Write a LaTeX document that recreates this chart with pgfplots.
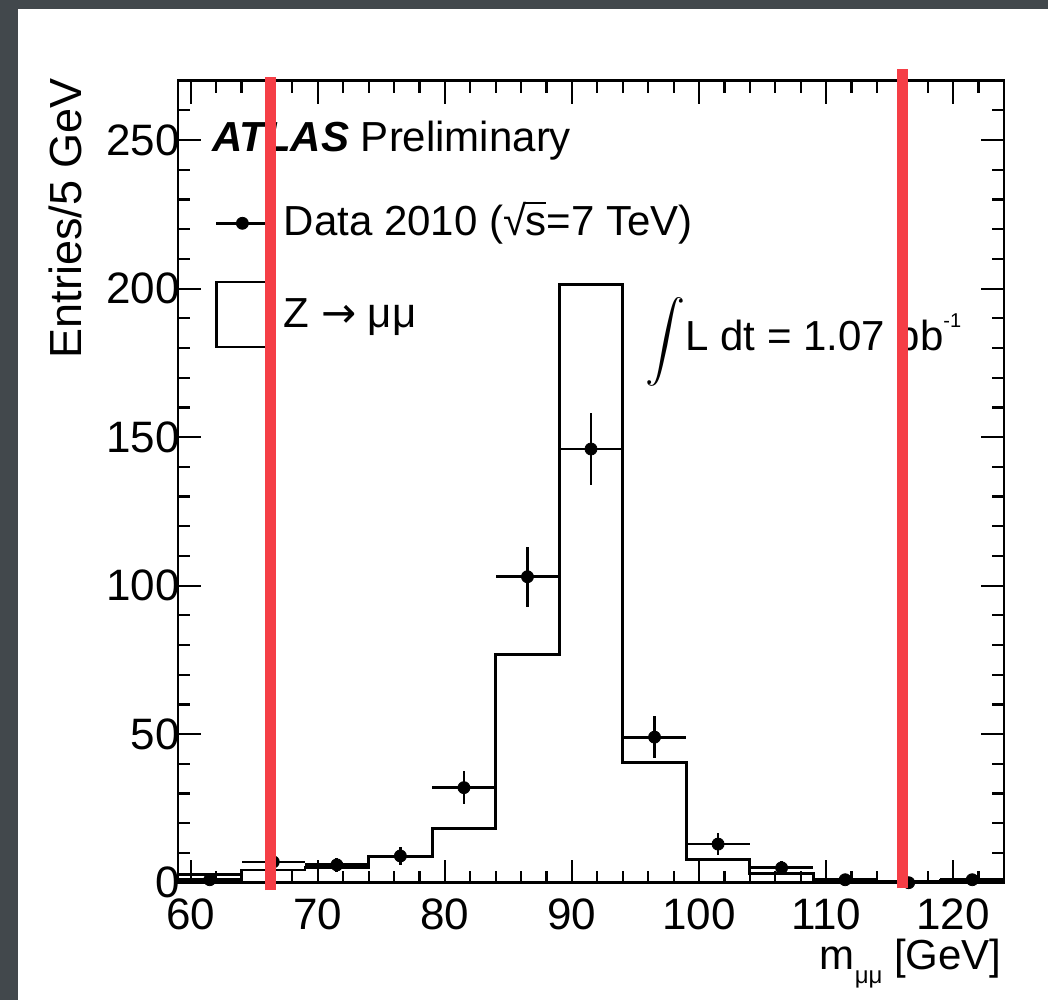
\documentclass[border=0pt]{standalone}
\usepackage{pgfplots}
\pgfplotsset{compat=1.18}
\usepackage{fontspec}
\setmainfont{Liberation Sans}
\newfontfamily\dejavu{DejaVu Sans}
\definecolor{slate}{RGB}{66,72,76}
\definecolor{pen}{RGB}{245,62,70}

\pgfplotstableread{
x     y    ex   ey
61.5  1    2.5  1.0
66.5  7    2.5  2.65
71.5  6    2.5  2.45
76.5  9    2.5  3.0
81.5  32   2.5  5.66
86.5  103  2.5  10.15
91.5  146  2.5  12.08
96.5  49   2.5  7.0
101.5 13   2.5  3.6
106.5 5    2.5  2.24
111.5 1    2.5  1.0
116.5 0    2.5  0.0
121.5 1    2.5  1.0
}\datatab

\pgfplotstableread{
x    y
59   2.8
64   4.3
69   5.2
74   8.8
79   18.3
84   76.9
89   201.5
94   40.4
99   7.7
104  3.0
109  1.2
114  0.3
119  0.8
124  0.8
}\mctab

\pgfplotsset{
  frame/.style={
    at={(89pt,58.65pt)}, anchor=south west,
    scale only axis, width=413pt, height=401pt,
    xmin=59, xmax=124, ymin=0, ymax=270, clip=false},
}

\begin{document}
\begin{tikzpicture}
\fill[slate] (0,0) rectangle (524pt,500pt);
\fill[white] (9pt,0) rectangle (524pt,495.5pt);
\begin{axis}[
  frame,
  xtick={60,70,...,120}, ytick={0,50,...,250},
  minor xtick={62,64,...,122},
  minor ytick={10,20,...,260},
  tick align=inside, tick pos=both,
  major tick length=11.5pt, minor tick length=6pt,
  axis line style={line width=1.4pt},
  every tick/.style={line width=1.1pt, black},
  tick label style={font=\fontsize{22}{22}\selectfont},
  /pgf/number format/assume math mode=true,
  x tick label style={yshift=-4.5pt},
  y tick label style={xshift=4.5pt},
  legend cell align=left,
  legend style={draw=none, fill=none, at={(0.0448,0.8486)}, anchor=north west,
    inner sep=0pt, outer sep=0pt,
    font=\fontsize{21}{21}\selectfont, row sep=21pt,
    nodes={inner sep=0pt},
    /tikz/every odd column/.append style={column sep=7pt}},
]
\addplot[const plot, line width=1.4pt, black, forget plot] table[x=x, y=y] {\mctab};
\addplot[only marks, mark=*, mark size=3pt, black,
  legend image code/.code={\draw[line width=1.4pt] (0pt,-1.5pt) -- (26pt,-1.5pt); \fill (13pt,-1.5pt) circle (3pt);},
  error bars/.cd, x dir=both, x explicit, y dir=both, y explicit,
  error bar style={line width=1.4pt, black}, error mark=none]
  table[x=x, y=y, x error=ex, y error=ey] {\datatab};
\addlegendentry{Data 2010 (√\kern-0.02em\rlap{\rule[0.74em]{0.5em}{0.055em}}s=7 TeV)}
\addlegendimage{legend image code/.code={\draw[line width=1.2pt] (0pt,-16.25pt) rectangle (26pt,16.25pt);}}
\addlegendentry{Z {\dejavu →} μμ}

\node[anchor=base west, inner sep=0, font=\fontsize{21}{21}\selectfont] at (axis cs:61.68,246.3) {\textbf{\textit{ATLAS}} Preliminary};
\node[anchor=west, inner sep=0, scale=2.0] at (axis cs:95.7,182.0) {$\displaystyle\int$};
\node[anchor=base west, inner sep=0, font=\fontsize{21}{21}\selectfont] at (axis cs:98.9,179.3) {L dt = 1.07 pb\raisebox{11.5pt}{\fontsize{10}{10}\selectfont -1}};
\end{axis}
\begin{axis}[frame, hide axis]
\addplot[pen, line width=5.5pt, forget plot] coordinates {(66.25,-2.5) (66.25,271.3)};
\addplot[pen, line width=5.5pt, forget plot] coordinates {(116.05,-1.8) (116.05,274)};
\end{axis}
\node[rotate=90, anchor=base east, inner sep=0, font=\fontsize{22.5}{22.5}\selectfont] at (40.5pt,461pt) {Entries/5 GeV};
\node[anchor=base east, inner sep=0, font=\fontsize{21}{21}\selectfont] at (501pt,15.5pt) {m\raisebox{-0.35em}{\fontsize{12}{12}\selectfont μμ} [GeV]};
\end{tikzpicture}
\end{document}
